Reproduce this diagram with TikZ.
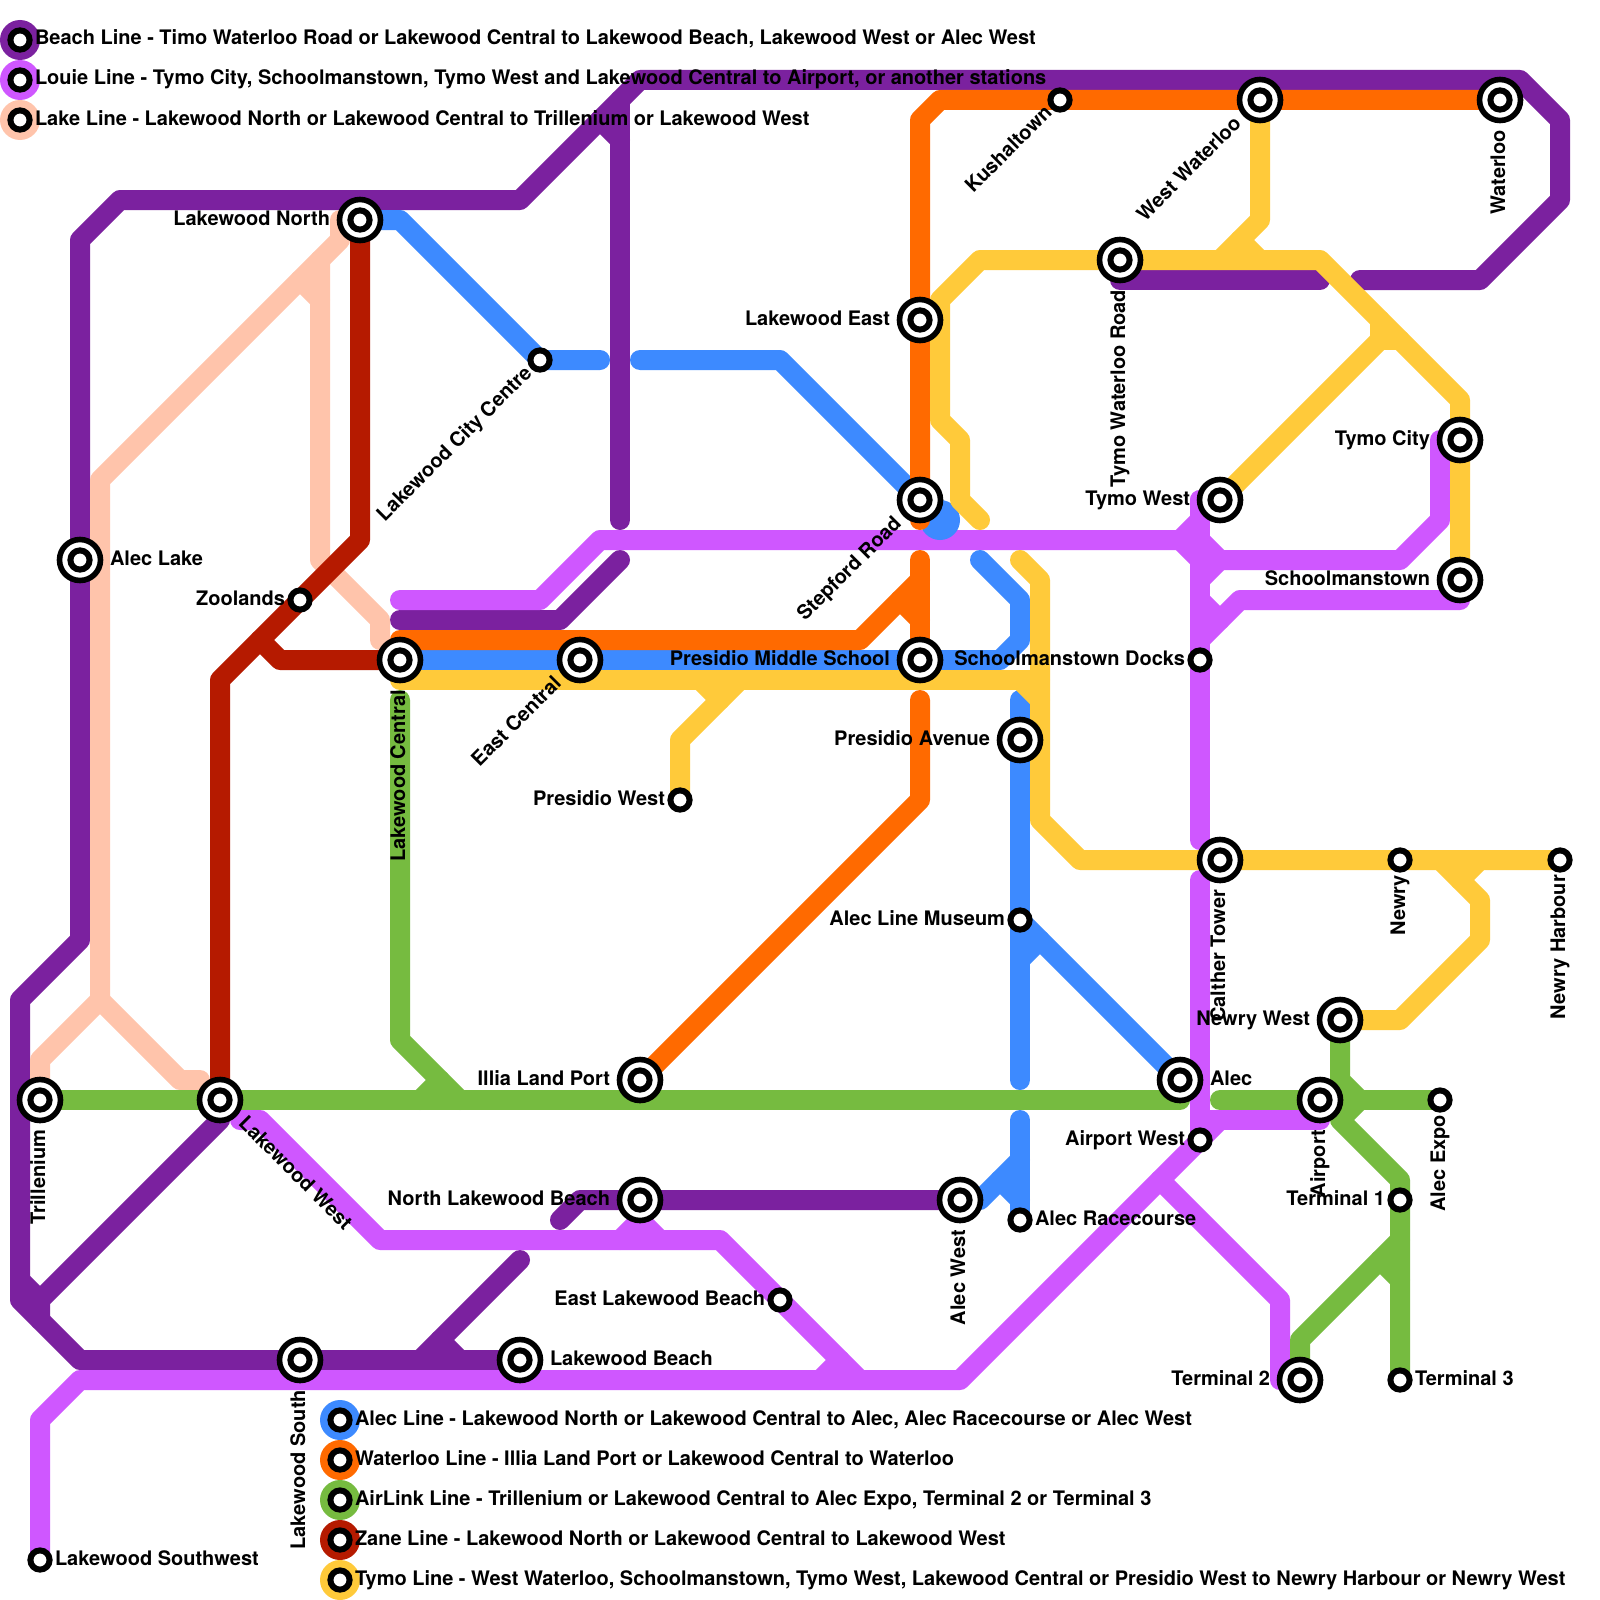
\documentclass[tikz,border=0pt]{standalone}
\usepackage{fontspec}
\setmainfont{TeX Gyre Heros}
\definecolor{cbeach}{HTML}{7B219F}
\definecolor{clouie}{HTML}{CF57FF}
\definecolor{clake}{HTML}{FFC4AB}
\definecolor{calec}{HTML}{3D8AFF}
\definecolor{cwaterloo}{HTML}{FF6A00}
\definecolor{cairlink}{HTML}{76BB40}
\definecolor{czane}{HTML}{B51A00}
\definecolor{ctymo}{HTML}{FFCA3A}
\tikzset{
  metro/.style={line width=20pt,line cap=round,line join=round},
  beach/.style={metro,draw=cbeach},
  louie/.style={metro,draw=clouie},
  lake/.style={metro,draw=clake},
  alecline/.style={metro,draw=calec},
  waterlooline/.style={metro,draw=cwaterloo},
  airlink/.style={metro,draw=cairlink},
  zane/.style={metro,draw=czane},
  tymo/.style={metro,draw=ctymo},
  ringout/.style={circle,draw=black,fill=white,line width=5.6pt,inner sep=0pt,outer sep=0pt,minimum size=41pt},
  ringin/.style={circle,draw=black,fill=white,line width=6pt,inner sep=0pt,outer sep=0pt,minimum size=19.2pt},
  legenddisc/.style={circle,inner sep=0pt,outer sep=0pt,minimum size=40pt},
  lbl/.style={inner sep=0pt,outer sep=0pt,font=\fontsize{20}{24}\selectfont\bfseries,text=black},
  lblW/.style={lbl,anchor=base east},
  lblE/.style={lbl,anchor=base west},
}
\newcommand{\bigst}[1]{\node[ringout] (#1O) at (#1) {};\node[ringin] (#1I) at (#1) {};}
\newcommand{\smallst}[1]{\node[ringin] (#1O) at (#1) {};}
% label: name, rotation, W/E, distance, text
\newcommand{\stlabel}[5]{\node[lbl#3,rotate=#2,xshift=#4pt,yshift=-5pt] (#1L) at (#1) {#5};}
\newcommand{\legendrow}[4]{%
  \node[legenddisc,fill=#2] (#1D) at (#3) {};
  \node[ringin] (#1R) at (#3) {};
  \node[lblE,xshift=15pt,yshift=-5pt] (#1T) at (#3) {#4};}
\begin{document}
\begin{tikzpicture}[x=1pt,y=-1pt]
\useasboundingbox (0,0) rectangle (1600,1600);
\fill[white] (0,0) rectangle (1600,1600);
% station positions
\coordinate (lakewoodNorth) at (360,220);
\coordinate (cityCentre) at (540,360);
\coordinate (alecLake) at (80,560);
\coordinate (zoolands) at (300,600);
\coordinate (lakewoodCentral) at (400,660);
\coordinate (eastCentral) at (580,660);
\coordinate (presidioWest) at (680,800);
\coordinate (presidioMiddle) at (920,660);
\coordinate (stepford) at (920,500);
\coordinate (lakewoodEast) at (920,320);
\coordinate (kushaltown) at (1060,100);
\coordinate (westWaterloo) at (1260,100);
\coordinate (waterloo) at (1500,100);
\coordinate (tymoRoad) at (1120,260);
\coordinate (tymoCity) at (1460,440);
\coordinate (tymoWest) at (1220,500);
\coordinate (schoolmanstown) at (1460,580);
\coordinate (docks) at (1200,660);
\coordinate (presidioAve) at (1020,740);
\coordinate (calther) at (1220,860);
\coordinate (newry) at (1400,860);
\coordinate (newryHarbour) at (1560,860);
\coordinate (museum) at (1020,920);
\coordinate (newryWest) at (1340,1020);
\coordinate (trillenium) at (40,1100);
\coordinate (lakewoodWest) at (220,1100);
\coordinate (illia) at (640,1080);
\coordinate (alec) at (1180,1080);
\coordinate (airport) at (1320,1100);
\coordinate (alecExpo) at (1440,1100);
\coordinate (airportWest) at (1200,1140);
\coordinate (northBeach) at (640,1200);
\coordinate (alecWest) at (960,1200);
\coordinate (racecourse) at (1020,1220);
\coordinate (terminalOne) at (1400,1200);
\coordinate (eastBeach) at (780,1300);
\coordinate (lakewoodSouth) at (300,1360);
\coordinate (lakewoodBeach) at (520,1360);
\coordinate (terminalTwo) at (1300,1380);
\coordinate (terminalThree) at (1400,1380);
\coordinate (southwest) at (40,1560);
% Beach line
\draw[beach] (1360,280) -- (1480,280) -- (1560,200) -- (1560,120) -- (1520,80) -- (640,80) -- (520,200) -- (120,200) -- (80,240) -- (alecLake) -- (80,940) -- (20,1000) -- (20,1300) -- (80,1360) -- (lakewoodSouth) -- (lakewoodBeach);
\draw[beach] (620,100) -- (620,520);
\draw[beach] (600,120) -- (620,140);
\draw[beach] (tymoRoad) -- (1120,280) -- (1320,280);
\draw[beach] (620,560) -- (560,620) -- (400,620);
\draw[beach] (lakewoodWest) -- (220,1120) -- (40,1300) -- (40,1320);
\draw[beach] (20,1280) -- (40,1300);
\draw[beach] (520,1260) -- (420,1360);
\draw[beach] (440,1340) -- (460,1360);
\draw[beach] (560,1220) -- (580,1200) -- (northBeach) -- (alecWest);
% Louie line
\draw[louie] (400,600) -- (540,600) -- (600,540) -- (1180,540) -- (1200,520) -- (1200,500);
\draw[louie] (1180,540) -- (1200,560);
\draw[louie] (1200,500) -- (1200,840);
\draw[louie] (1200,880) -- (1200,1120);
\draw[louie] (1200,540) -- (1220,560) -- (1400,560) -- (1440,520) -- (1440,440);
\draw[louie] (1200,580) -- (1220,560);
\draw[louie] (1200,640) -- (1240,600) -- (1460,600) -- (schoolmanstown);
\draw[louie] (1200,600) -- (1220,620);
\draw[louie] (airportWest) -- (1200,1120) -- (1320,1120) -- (airport);
\draw[louie] (1220,1120) -- (960,1380) -- (80,1380) -- (40,1420) -- (southwest);
\draw[louie] (1160,1180) -- (1280,1300) -- (1280,1380) -- (terminalTwo);
\draw[louie] (240,1120) -- (260,1120) -- (380,1240) -- (720,1240) -- (860,1380);
\draw[louie] (820,1380) -- (840,1360);
\draw[louie] (620,1240) -- (640,1220) -- (660,1240);
% Lake line
\draw[lake] (340,220) -- (340,240) -- (100,480) -- (100,1000) -- (40,1060) -- (trillenium);
\draw[lake] (100,1000) -- (180,1080) -- (200,1080);
\draw[lake] (320,260) -- (320,560) -- (380,620) -- (380,640);
\draw[lake] (300,280) -- (320,300);
% Alec line
\draw[alecline] (lakewoodNorth) -- (400,220) -- (cityCentre) -- (600,360);
\draw[alecline] (640,360) -- (780,360) -- (stepford);
\node[legenddisc,fill=calec] (stepfordBlob) at (940,520) {};
\draw[alecline] (980,560) -- (1020,600) -- (1020,640) -- (1000,660) -- (lakewoodCentral);
\draw[alecline] (1020,700) -- (presidioAve) -- (museum) -- (1020,1080);
\draw[alecline] (1020,1120) -- (racecourse);
\draw[alecline] (alecWest) -- (980,1200) -- (1020,1160);
\draw[alecline] (1000,1180) -- (1020,1200);
\draw[alecline] (museum) -- (alec);
\draw[alecline] (1020,960) -- (1040,940);
% Waterloo line
\draw[waterlooline] (400,640) -- (860,640) -- (920,580);
\draw[waterlooline] (900,600) -- (920,620);
\draw[waterlooline] (920,560) -- (presidioMiddle);
\draw[waterlooline] (920,700) -- (920,800) -- (illia);
\draw[waterlooline] (920,520) -- (stepford) -- (lakewoodEast) -- (920,120) -- (940,100) -- (waterloo);
% AirLink line
\draw[airlink] (trillenium) -- (lakewoodWest) -- (alec |- trillenium);
\draw[airlink] (1220,1100) -- (airport) -- (alecExpo);
\draw[airlink] (400,700) -- (400,1040) -- (460,1100);
\draw[airlink] (420,1100) -- (440,1080);
\draw[airlink] (newryWest) -- (1340,1080) -- (1360,1100) -- (1340,1120) -- (1400,1180) -- (terminalThree);
\draw[airlink] (terminalTwo) -- (1300,1340) -- (1400,1240);
\draw[airlink] (1380,1260) -- (1400,1280);
% Zane line
\draw[zane] (lakewoodNorth) -- (360,540) -- (220,680) -- (lakewoodWest);
\draw[zane] (260,640) -- (280,660) -- (lakewoodCentral);
% Tymo line
\draw[tymo] (westWaterloo) -- (1260,220) -- (1220,260);
\draw[tymo] (1240,240) -- (1260,260);
\draw[tymo] (980,520) -- (960,500) -- (960,440) -- (940,420) -- (940,300) -- (980,260) -- (tymoRoad) -- (1320,260) -- (1460,400) -- (tymoCity) -- (schoolmanstown);
\draw[tymo] (1020,560) -- (1040,580) -- (1040,820) -- (1080,860) -- (calther) -- (newry) -- (newryHarbour);
\draw[tymo] (1380,320) -- (1380,340) -- (tymoWest);
\draw[tymo] (1380,340) -- (1400,340);
\draw[tymo] (lakewoodCentral |- 0,680) -- (1040,680);
\draw[tymo] (1020,680) -- (1040,700);
\draw[tymo] (presidioWest) -- (680,740) -- (740,680);
\draw[tymo] (700,680) -- (720,700);
\draw[tymo] (newryWest) -- (1400,1020) -- (1480,940) -- (1480,900) -- (1440,860);
\draw[tymo] (1460,880) -- (1480,860);
% stations
\bigst{lakewoodNorth}\bigst{alecLake}\bigst{lakewoodCentral}\bigst{eastCentral}
\bigst{presidioMiddle}\bigst{stepford}\bigst{lakewoodEast}\bigst{westWaterloo}
\bigst{waterloo}\bigst{tymoRoad}\bigst{tymoCity}\bigst{tymoWest}
\bigst{schoolmanstown}\bigst{presidioAve}\bigst{calther}\bigst{newryWest}
\bigst{trillenium}\bigst{lakewoodWest}\bigst{illia}\bigst{alec}\bigst{airport}
\bigst{northBeach}\bigst{alecWest}\bigst{lakewoodSouth}\bigst{lakewoodBeach}\bigst{terminalTwo}
\smallst{cityCentre}\smallst{zoolands}\smallst{presidioWest}\smallst{kushaltown}
\smallst{docks}\smallst{newry}\smallst{newryHarbour}\smallst{museum}\smallst{alecExpo}
\smallst{airportWest}\smallst{racecourse}\smallst{terminalOne}\smallst{eastBeach}
\smallst{terminalThree}\smallst{southwest}
% labels
\stlabel{lakewoodNorth}{0}{W}{-30}{Lakewood North}
\stlabel{lakewoodEast}{0}{W}{-30}{Lakewood East}
\stlabel{zoolands}{0}{W}{-15}{Zoolands}
\stlabel{presidioWest}{0}{W}{-15}{Presidio West}
\stlabel{presidioMiddle}{0}{W}{-30}{Presidio Middle School}
\stlabel{docks}{0}{W}{-15}{Schoolmanstown Docks}
\stlabel{presidioAve}{0}{W}{-30}{Presidio Avenue}
\stlabel{museum}{0}{W}{-15}{Alec Line Museum}
\stlabel{illia}{0}{W}{-30}{Illia Land Port}
\stlabel{northBeach}{0}{W}{-30}{North Lakewood Beach}
\stlabel{eastBeach}{0}{W}{-15}{East Lakewood Beach}
\stlabel{tymoCity}{0}{W}{-30}{Tymo City}
\stlabel{tymoWest}{0}{W}{-30}{Tymo West}
\stlabel{schoolmanstown}{0}{W}{-30}{Schoolmanstown}
\stlabel{newryWest}{0}{W}{-30}{Newry West}
\stlabel{airportWest}{0}{W}{-15}{Airport West}
\stlabel{terminalOne}{0}{W}{-15}{Terminal 1}
\stlabel{terminalTwo}{0}{W}{-30}{Terminal 2}
\stlabel{alecLake}{0}{E}{30}{Alec Lake}
\stlabel{lakewoodBeach}{0}{E}{30}{Lakewood Beach}
\stlabel{alec}{0}{E}{30}{Alec}
\stlabel{racecourse}{0}{E}{15}{Alec Racecourse}
\stlabel{terminalThree}{0}{E}{15}{Terminal 3}
\stlabel{southwest}{0}{E}{15}{Lakewood Southwest}
\stlabel{lakewoodCentral}{90}{W}{-30}{Lakewood Central}
\stlabel{trillenium}{90}{W}{-30}{Trillenium}
\stlabel{lakewoodSouth}{90}{W}{-30}{Lakewood South}
\stlabel{tymoRoad}{90}{W}{-30}{Tymo Waterloo Road}
\stlabel{waterloo}{90}{W}{-30}{Waterloo}
\stlabel{calther}{90}{W}{-30}{Calther Tower}
\stlabel{newry}{90}{W}{-15}{Newry}
\stlabel{newryHarbour}{90}{W}{-15}{Newry Harbour}
\stlabel{alecWest}{90}{W}{-30}{Alec West}
\stlabel{alecExpo}{90}{W}{-15}{Alec Expo}
\stlabel{airport}{90}{W}{-30}{Airport}
\stlabel{cityCentre}{45}{W}{-15}{Lakewood City Centre}
\stlabel{eastCentral}{45}{W}{-30}{East Central}
\stlabel{stepford}{45}{W}{-30}{Stepford Road}
\stlabel{kushaltown}{45}{W}{-15}{Kushaltown}
\stlabel{westWaterloo}{45}{W}{-30}{West Waterloo}
\stlabel{lakewoodWest}{-45}{E}{30}{Lakewood West}
% legend
\legendrow{legA}{cbeach}{20,40}{Beach Line - Timo Waterloo Road or Lakewood Central to Lakewood Beach, Lakewood West or Alec West}
\legendrow{legB}{clouie}{20,80}{Louie Line - Tymo City, Schoolmanstown, Tymo West and Lakewood Central to Airport, or another stations}
\legendrow{legC}{clake}{20,120}{Lake Line - Lakewood North or Lakewood Central to Trillenium or Lakewood West}
\legendrow{legD}{calec}{340,1420}{Alec Line - Lakewood North or Lakewood Central to Alec, Alec Racecourse or Alec West}
\legendrow{legE}{cwaterloo}{340,1460}{Waterloo Line - Illia Land Port or Lakewood Central to Waterloo}
\legendrow{legF}{cairlink}{340,1500}{AirLink Line - Trillenium or Lakewood Central to Alec Expo, Terminal 2 or Terminal 3}
\legendrow{legG}{czane}{340,1540}{Zane Line - Lakewood North or Lakewood Central to Lakewood West}
\legendrow{legH}{ctymo}{340,1580}{Tymo Line - West Waterloo, Schoolmanstown, Tymo West, Lakewood Central or Presidio West to Newry Harbour or Newry West}
\end{tikzpicture}
\end{document}
